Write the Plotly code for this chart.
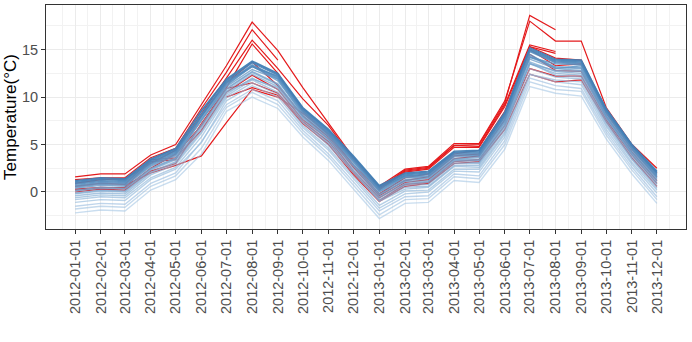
import plotly.graph_objects as go
import pandas as pd

months = ["2012-01-01", "2012-02-01", "2012-03-01", "2012-04-01", "2012-05-01", "2012-06-01",
          "2012-07-01", "2012-08-01", "2012-09-01", "2012-10-01", "2012-11-01", "2012-12-01",
          "2013-01-01", "2013-02-01", "2013-03-01", "2013-04-01", "2013-05-01", "2013-06-01",
          "2013-07-01", "2013-08-01", "2013-09-01", "2013-10-01", "2013-11-01", "2013-12-01"]
y_ticks = [0, 5, 10, 15]
y_title = "Temperature(°C)"

# blue stations (coldest -> warmest)
s00 = [-2.2, -1.9, -2.0, 0.2, 1.3, 4.0, 8.5, 10.0, 8.8, 5.8, 3.3, 0.3, -2.8, -1.2, -1.1, 1.2, 1.0, 4.5, 11.1, 10.4, 10.1, 5.6, 1.9, -1.2]
s01 = [-1.8, -1.5, -1.6, 0.6, 1.7, 4.6, 8.9, 10.5, 9.2, 6.2, 3.7, 0.7, -2.4, -0.8, -0.7, 1.6, 1.4, 5.0, 11.6, 10.8, 10.6, 6.0, 2.3, -0.8]
s02 = [-1.5, -1.2, -1.3, 0.9, 2.0, 5.3, 9.2, 10.8, 9.6, 6.5, 4.0, 1.1, -2.0, -0.5, -0.4, 1.9, 1.7, 5.4, 12.0, 11.2, 10.9, 6.3, 2.6, -0.5]
s03 = [-1.1, -0.8, -0.9, 1.3, 2.4, 5.2, 9.6, 11.2, 10.0, 6.8, 4.4, 1.4, -1.7, -0.2, 0.0, 2.2, 2.1, 5.8, 12.4, 11.6, 11.3, 6.6, 2.9, -0.1]
s04 = [-0.8, -0.5, -0.6, 1.5, 2.6, 5.8, 9.9, 11.5, 10.3, 7.0, 4.6, 1.7, -1.4, 0.1, 0.2, 2.4, 2.4, 6.1, 12.4, 11.8, 11.6, 6.9, 3.1, 0.2]
s05 = [-0.6, -0.3, -0.4, 1.8, 2.9, 6.2, 10.1, 11.8, 10.5, 7.3, 4.9, 2.0, -1.0, 0.3, 0.5, 2.7, 2.6, 6.3, 13.0, 12.1, 11.9, 7.1, 3.4, 0.4]
s06 = [-0.4, -0.1, -0.2, 2.0, 3.1, 6.4, 10.3, 12.0, 10.8, 7.4, 5.1, 2.2, -0.9, 0.5, 0.6, 2.8, 2.8, 6.6, 13.6, 12.3, 12.1, 7.3, 3.5, 0.6]
s07 = [-0.2, 0.1, 0.0, 2.1, 3.2, 6.7, 10.5, 11.9, 11.0, 7.6, 5.2, 2.3, -0.8, 0.7, 0.8, 3.0, 3.0, 6.8, 13.5, 12.5, 12.3, 7.5, 3.7, 0.8]
s08 = [-0.1, 0.2, 0.1, 2.3, 3.4, 6.9, 10.6, 12.4, 11.1, 7.8, 5.4, 2.5, -0.6, 0.8, 1.0, 3.2, 3.1, 7.0, 13.7, 12.7, 12.5, 7.9, 3.9, 0.9]
s09 = [0.1, 0.4, 0.3, 2.4, 3.5, 7.1, 10.8, 12.6, 11.3, 7.9, 5.5, 2.7, -0.5, 0.9, 1.1, 3.3, 3.3, 7.1, 13.5, 12.8, 12.7, 7.7, 4.0, 1.1]
s10 = [0.2, 0.5, 0.4, 2.5, 3.6, 7.6, 10.9, 12.7, 11.4, 8.0, 5.6, 2.8, -0.3, 1.1, 1.2, 3.4, 3.4, 7.3, 14.0, 13.0, 12.8, 7.9, 4.1, 1.2]
s11 = [0.4, 0.7, 0.6, 2.7, 3.8, 7.5, 11.1, 12.9, 11.9, 8.1, 5.8, 2.9, -0.2, 1.2, 1.4, 3.5, 3.6, 7.4, 14.2, 13.1, 13.0, 8.0, 4.2, 1.4]
s12 = [0.5, 0.8, 0.7, 2.8, 3.9, 7.6, 11.2, 13.3, 11.7, 8.3, 5.9, 3.1, 0.0, 1.3, 1.5, 3.7, 3.7, 7.6, 14.3, 13.2, 13.1, 8.1, 4.4, 1.5]
s13 = [0.6, 0.9, 0.8, 2.9, 4.0, 7.8, 11.3, 13.2, 11.9, 8.4, 6.0, 3.2, 0.1, 1.5, 1.6, 3.8, 3.8, 7.7, 14.5, 13.0, 13.3, 8.3, 4.5, 1.6]
s14 = [0.7, 1.0, 0.9, 3.0, 4.1, 8.0, 11.4, 13.3, 12.0, 8.5, 6.1, 3.3, 0.2, 1.6, 1.7, 3.9, 3.9, 7.9, 14.2, 13.5, 13.4, 8.4, 4.6, 1.7]
s15 = [0.8, 1.1, 1.0, 3.1, 4.2, 8.1, 11.5, 13.4, 12.1, 8.6, 6.2, 3.4, 0.3, 1.7, 1.8, 4.0, 4.0, 8.0, 14.8, 13.6, 13.5, 8.5, 4.7, 1.8]
s16 = [0.9, 1.2, 1.1, 3.2, 4.3, 8.2, 11.6, 13.2, 12.2, 8.7, 6.3, 3.5, 0.4, 1.7, 1.9, 4.1, 4.1, 8.1, 14.9, 13.7, 13.6, 8.5, 4.8, 1.9]
s17 = [1.0, 1.3, 1.2, 3.3, 4.4, 8.0, 11.7, 13.6, 12.3, 8.8, 6.4, 3.6, 0.5, 1.8, 2.0, 4.2, 4.2, 8.2, 15.0, 13.8, 13.7, 8.6, 4.9, 2.0]
s18 = [1.1, 1.4, 1.3, 3.4, 4.5, 8.5, 11.8, 13.7, 12.4, 8.8, 6.5, 3.7, 0.6, 1.9, 2.1, 4.2, 4.3, 8.3, 15.1, 13.9, 13.8, 8.7, 4.9, 2.1]
s19 = [1.2, 1.5, 1.4, 3.5, 4.6, 8.6, 11.9, 13.8, 12.5, 8.9, 6.6, 3.8, 0.7, 2.0, 2.2, 4.3, 4.4, 8.4, 15.2, 14.0, 13.9, 8.8, 5.0, 2.2]
blue_series = [s00, s01, s02, s03, s04, s05, s06, s07, s08, s09,
               s10, s11, s12, s13, s14, s15, s16, s17, s18, s19]

N = None
r01 = [1.6, 1.9, 1.9, 3.9, 5.0, 9.2, 13.3, 17.9, 14.9, 11.0, 7.2, 3.6, 0.6, 2.4, 2.7, 5.1, 5.1, 9.6, 18.0, 15.9, 15.9, 8.9, 5.0, 2.5]
r02 = [1.3, 1.5, 1.5, 3.6, 4.6, 8.8, 12.6, 17.1, 13.9, N, N, N, N, N, N, N, N, N, N, N, N, N, N, N]
r03 = [0.9, 1.3, 1.4, 3.0, 4.4, 8.2, 12.0, 16.0, 13.0, 9.8, 7.0, 3.4, 0.4, 2.3, 2.6, 4.9, 5.0, 9.4, 18.6, 17.1, N, N, N, N]
r04 = [0.3, 0.5, 0.4, 2.5, 4.0, 7.0, 11.0, 15.6, 12.5, 8.5, 6.0, 2.8, 0.2, 2.2, 2.5, 4.9, 4.8, 9.2, 15.5, 14.8, N, N, N, N]
r05 = [N, N, 0.7, 2.0, 2.8, 3.8, 7.3, 10.8, 10.0, 8.3, 6.1, 2.8, -0.2, 1.5, 1.9, 4.0, 4.4, 8.5, 15.3, 14.1, 13.9, 8.6, 4.8, 2.0]
r06 = [0.2, 0.4, 0.5, 3.2, 3.4, 8.0, 11.5, 13.7, 11.2, 8.0, 5.8, 2.6, -0.4, 1.2, 1.6, 3.8, 4.0, 8.0, 15.0, 13.3, 13.5, 8.3, 4.5, 1.6]
r07 = [0.6, 0.9, 0.8, 3.4, 3.6, 6.5, 10.5, 12.3, 10.8, 7.6, 5.6, 2.2, -0.6, 1.0, 1.3, 3.5, 3.8, 7.6, 14.5, 12.8, 12.7, 7.9, 4.2, 1.2]
r08 = [0.0, 0.3, 0.2, 2.2, 3.0, 7.2, 10.9, 11.5, 10.4, 7.4, 5.3, 2.0, -0.9, 0.8, 1.0, 3.2, 3.4, 7.0, 13.0, 12.2, 12.2, 7.6, 3.9, 0.9]
r09 = [N, N, N, N, N, N, 10.0, 11.0, 10.2, 7.2, 5.0, 1.8, -1.0, 0.6, 0.9, 3.0, 3.2, 6.6, 12.4, 11.6, 11.8, 7.4, 3.6, 0.6]
r10 = [N, N, N, N, N, N, N, N, N, N, N, N, 0.3, 2.1, 2.4, 4.7, 4.7, 9.0, 15.3, 14.6, N, N, N, N]
red_series = [r01, r02, r03, r04, r05, r06, r07, r08, r09, r10]

FONT = "Liberation Sans, Arial, sans-serif"
fig = go.Figure()

for s in red_series:
    fig.add_trace(go.Scatter(x=months, y=s, mode="lines", connectgaps=False,
                             line=dict(color="#e41a1c", width=1.2), showlegend=False))

lo, hi = (165, 198, 228), (66, 126, 180)
n = len(blue_series)
for i, s in enumerate(blue_series):
    t = i / (n - 1)
    c = tuple(round(lo[k] + (hi[k] - lo[k]) * t) for k in range(3))
    op = 0.6 + 0.35 * t
    fig.add_trace(go.Scatter(x=months, y=s, mode="lines",
                             line=dict(color=f"rgba({c[0]},{c[1]},{c[2]},{op:.2f})", width=1.4),
                             showlegend=False))

dates = pd.to_datetime(months)
ext = [dates[0] - pd.DateOffset(months=1)] + list(dates) + [dates[-1] + pd.DateOffset(months=1)]
minor_x = [(ext[i] + (ext[i + 1] - ext[i]) / 2).strftime("%Y-%m-%d %H:%M") for i in range(len(ext) - 1)]

fig.update_layout(
    width=692, height=342,
    margin=dict(l=46, r=6, t=5, b=113),
    paper_bgcolor="white", plot_bgcolor="white",
    font=dict(family=FONT, size=14, color="#4d4d4d"),
    xaxis=dict(type="date", range=["2011-11-27", "2014-01-05"], automargin=False,
               tickmode="array", tickvals=months, ticktext=months, tickangle=-90,
               showgrid=True, gridcolor="#ebebeb", gridwidth=1,
               minor=dict(tickmode="array", tickvals=minor_x, showgrid=True, gridcolor="#f2f2f2", gridwidth=0.6, ticks=""),
               ticks="outside", ticklen=4, tickcolor="#333333", tickwidth=1,
               showline=True, linecolor="#333333", linewidth=1, mirror=True, zeroline=False,
               tickfont=dict(size=14.5, color="#4d4d4d")),
    yaxis=dict(range=[-3.9, 19.7], tickmode="array", tickvals=y_ticks, automargin=False,
               showgrid=True, gridcolor="#ebebeb", gridwidth=1,
               minor=dict(tickmode="array", tickvals=[-2.5, 2.5, 7.5, 12.5, 17.5], showgrid=True, gridcolor="#f2f2f2", gridwidth=0.6, ticks=""),
               ticks="outside", ticklen=4, tickcolor="#333333", tickwidth=1,
               showline=True, linecolor="#333333", linewidth=1, mirror=True, zeroline=False,
               tickfont=dict(size=14.5, color="#4d4d4d"),
               title=dict(text=y_title, font=dict(size=17, color="black"), standoff=1)),
)

fig.write_html("out.html", config={"displayModeBar": False},
               post_script="document.body.style.margin='0';document.body.style.padding='0';")
